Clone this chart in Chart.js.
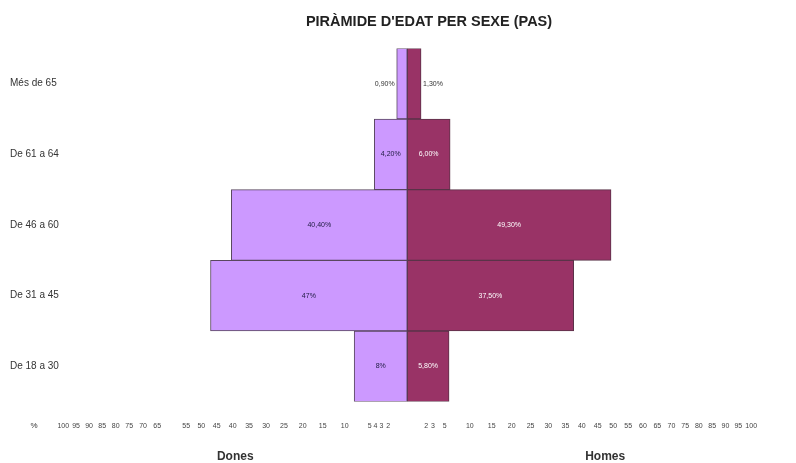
<!DOCTYPE html>
<html lang="ca">
<head>
    <meta charset="UTF-8">
    <title>Piràmide d'edat per sexe (PAS)</title>
    <style>
        body {
            margin: 0;
            padding: 0;
            background-color: #fff;
        }

        #chart-container {
            width: 796px;
            height: 463px;
        }
    </style>
    <script src="https://cdn.jsdelivr.net/npm/chart.js"></script>
</head>
<body>
    <div id="chart-container">
        <canvas id="pyramid"></canvas>
    </div>

    <script>
        // Age groups, top to bottom
        const ageGroups = ['Més de 65', 'De 61 a 64', 'De 46 a 60', 'De 31 a 45', 'De 18 a 30'];

        // Percentages per sex
        const dones = [0.9, 4.2, 40.4, 47, 8];
        const homes = [1.3, 6.0, 49.3, 37.5, 5.8];

        // Text printed on the bars
        const donesLabels = ['0,90%', '4,20%', '40,40%', '47%', '8%'];
        const homesLabels = ['1,30%', '6,00%', '49,30%', '37,50%', '5,80%'];

        // Tick labels under the chart (left side = Dones, right side = Homes)
        const donesTicks = [100, 95, 90, 85, 80, 75, 70, 65, 55, 50, 45, 40, 35, 30, 25, 20, 15, 10, 5, 4, 3, 2];
        const homesTicks = [2, 3, 5, 10, 15, 20, 25, 30, 35, 40, 45, 50, 55, 60, 65, 70, 75, 80, 85, 90, 95, 100];

        const FONT = '"Liberation Sans", Arial, sans-serif';

        // The original graphic stretches small values: a power scale does the same
        class PowerScale extends Chart.LinearScale {
            static id = 'power';

            tf(v) {
                const p = this.options.exponent || 0.74;
                return Math.sign(v) * Math.pow(Math.abs(v), p);
            }

            getPixelForValue(value) {
                const a = this.tf(this.min);
                const b = this.tf(this.max);
                return this.getPixelForDecimal((this.tf(value) - a) / (b - a));
            }

            getValueForPixel(pixel) {
                const p = this.options.exponent || 0.74;
                const a = this.tf(this.min);
                const b = this.tf(this.max);
                const t = a + this.getDecimalForPixel(pixel) * (b - a);
                return Math.sign(t) * Math.pow(Math.abs(t), 1 / p);
            }
        }
        Chart.register(PowerScale);

        // Percent labels on (or next to) each bar
        const barLabels = {
            id: 'barLabels',
            afterDatasetsDraw(chart) {
                const ctx = chart.ctx;
                ctx.save();
                ctx.font = '7px ' + FONT;
                ctx.textBaseline = 'middle';
                chart.data.datasets.forEach((ds, i) => {
                    chart.getDatasetMeta(i).data.forEach((bar, j) => {
                        const text = ds.valueLabels[j];
                        const w = ctx.measureText(text).width;
                        const left = Math.min(bar.x, bar.base);
                        const right = Math.max(bar.x, bar.base);
                        let x = (left + right) / 2;
                        ctx.textAlign = 'center';
                        ctx.fillStyle = ds.labelColor;
                        if (right - left < w + 6) {
                            ctx.fillStyle = '#333';
                            if (bar.x < bar.base) {
                                ctx.textAlign = 'right';
                                x = left - 2;
                            } else {
                                ctx.textAlign = 'left';
                                x = right + 2;
                            }
                        }
                        ctx.fillText(text, x, bar.y);
                    });
                });
                ctx.restore();
            }
        };

        // "%" in front of the ticks and the Dones / Homes captions
        const sideTitles = {
            id: 'sideTitles',
            afterDraw(chart) {
                const ctx = chart.ctx;
                const area = chart.chartArea;
                ctx.save();
                ctx.fillStyle = '#333';
                ctx.textBaseline = 'middle';
                ctx.textAlign = 'center';
                ctx.font = '8px ' + FONT;
                ctx.fillText('%', area.left - 28, area.bottom + 24);
                ctx.font = 'bold 12px ' + FONT;
                ctx.fillText('Dones', area.left + area.width * 0.236, chart.height - 6);
                ctx.fillText('Homes', area.left + area.width * 0.74, chart.height - 6);
                ctx.restore();
            }
        };

        const allTicks = donesTicks.map(v => -v).concat(homesTicks);

        new Chart(document.getElementById('pyramid'), {
            type: 'bar',
            data: {
                labels: ageGroups,
                datasets: [
                    {
                        label: 'Dones',
                        data: dones.map(v => -v),
                        valueLabels: donesLabels,
                        labelColor: '#1d1a40',
                        backgroundColor: '#cc99ff',
                        borderColor: '#5a4760',
                        borderWidth: 1,
                        borderSkipped: false,
                        barPercentage: 1,
                        categoryPercentage: 1
                    },
                    {
                        label: 'Homes',
                        data: homes,
                        valueLabels: homesLabels,
                        labelColor: '#ffffff',
                        backgroundColor: '#993366',
                        borderColor: '#5a3348',
                        borderWidth: 1,
                        borderSkipped: false,
                        barPercentage: 1,
                        categoryPercentage: 1
                    }
                ]
            },
            options: {
                indexAxis: 'y',
                responsive: true,
                maintainAspectRatio: false,
                animation: false,
                layout: {
                    padding: { left: 10, right: 0, top: 0, bottom: 21 }
                },
                scales: {
                    x: {
                        type: 'power',
                        exponent: 0.74,
                        stacked: true,
                        min: -100.5,
                        max: 118,
                        grid: { display: false },
                        border: { display: false },
                        afterBuildTicks: s => {
                            s.ticks = allTicks.map(v => ({ value: v }));
                        },
                        ticks: {
                            autoSkip: false,
                            maxRotation: 0,
                            minRotation: 0,
                            padding: 12,
                            color: '#444',
                            font: { family: FONT, size: 7 },
                            callback: v => Math.abs(v)
                        }
                    },
                    y: {
                        stacked: true,
                        grid: { display: false },
                        border: { display: false },
                        afterFit: s => {
                            s.width = 52;
                        },
                        ticks: {
                            crossAlign: 'far',
                            color: '#333',
                            font: { family: FONT, size: 10 }
                        }
                    }
                },
                plugins: {
                    legend: { display: false },
                    tooltip: { enabled: false },
                    title: {
                        display: true,
                        fullSize: false,
                        text: "PIRÀMIDE D'EDAT PER SEXE (PAS)",
                        color: '#222',
                        font: { family: FONT, size: 14.5, weight: 'bold' },
                        padding: { top: 13, bottom: 18 }
                    }
                }
            },
            plugins: [barLabels, sideTitles]
        });
    </script>
</body>
</html>
